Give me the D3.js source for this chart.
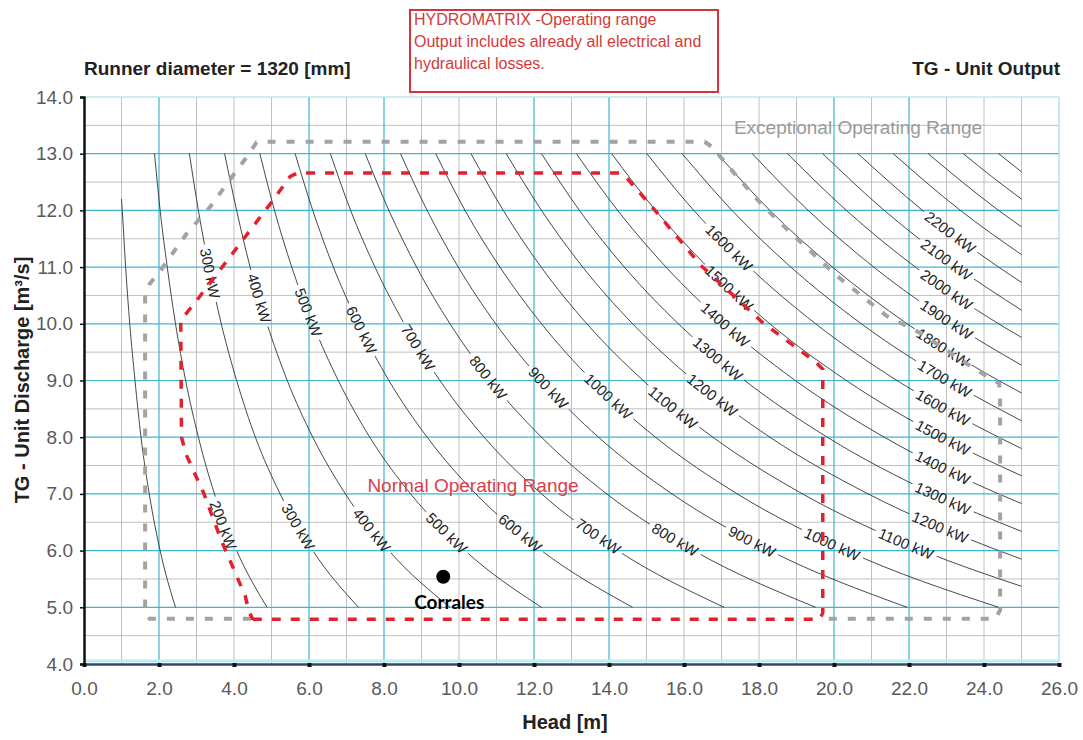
<!DOCTYPE html>
<html>
<head>
<meta charset="utf-8">
<script src="https://cdn.jsdelivr.net/npm/d3@7"></script>
<style>
  body { margin: 0; background: #fff; }
  svg { display: block; font-family: Arial, "Liberation Sans", sans-serif; }
</style>
</head>
<body>
<div id="chart"></div>
<script>
// axis ticks
var headTicks = [0, 2, 4, 6, 8, 10, 12, 14, 16, 18, 20, 22, 24, 26];
var dischargeTicks = [4, 5, 6, 7, 8, 9, 10, 11, 12, 13, 14];
var majorHeadGrid = [2, 6, 8, 12, 14, 20, 22];

// iso-output curves [head m, discharge m3/s]
var powerLevels = [100, 200, 300, 400, 500, 600, 700, 800, 900, 1000, 1100, 1200, 1300,
                   1400, 1500, 1600, 1700, 1800, 1900, 2000, 2100, 2200, 2300, 2400, 2500, 2600];
var curvePoints = [
  [[1.0,12.2],[1.02,12],[1.11,11],[1.22,10],[1.36,9],[1.52,8],[1.74,7],[2.03,6],[2.44,5]],
  [[1.88,13],[2.03,12],[2.22,11],[2.44,10],[2.71,9],[3.05,8],[3.48,7],[4.07,6],[4.88,5]],
  [[2.81,13],[3.05,12],[3.33,11],[3.66,10],[4.07,9],[4.57,8],[5.23,7],[6.10,6],[7.32,5]],
  [[3.75,13],[4.07,12],[4.43,11],[4.88,10],[5.42,9],[6.10,8],[6.97,7],[8.13,6],[9.76,5]],
  [[4.69,13],[5.08,12],[5.54,11],[6.10,10],[6.78,9],[7.62,8],[8.71,7],[10.16,6],[12.20,5]],
  [[5.63,13],[6.10,12],[6.65,11],[7.32,10],[8.13,9],[9.15,8],[10.45,7],[12.20,6],[14.63,5]],
  [[6.57,13],[7.11,12],[7.76,11],[8.54,10],[9.49,9],[10.67,8],[12.20,7],[14.23,6],[17.07,5]],
  [[7.50,13],[8.13,12],[8.87,11],[9.76,10],[10.84,9],[12.20,8],[13.94,7],[16.26,6],[19.51,5]],
  [[8.44,13],[9.15,12],[9.98,11],[10.98,10],[12.20,9],[13.72,8],[15.68,7],[18.29,6],[21.95,5]],
  [[9.38,13],[10.16,12],[11.09,11],[12.20,10],[13.55,9],[15.24,8],[17.42,7],[20.33,6],[24.39,5]],
  [[10.32,13],[11.18,12],[12.19,11],[13.41,10],[14.91,9],[16.77,8],[19.16,7],[22.36,6],[25,5.37]],
  [[11.26,13],[12.20,12],[13.30,11],[14.63,10],[16.26,9],[18.29,8],[20.91,7],[24.39,6],[25,5.85]],
  [[12.20,13],[13.21,12],[14.41,11],[15.85,10],[17.62,9],[19.82,8],[22.65,7],[25,6.34]],
  [[13.13,13],[14.23,12],[15.52,11],[17.07,10],[18.97,9],[21.34,8],[24.39,7],[25,6.83]],
  [[14.07,13],[15.24,12],[16.63,11],[18.29,10],[20.33,9],[22.87,8],[25,7.32]],
  [[15.01,13],[16.26,12],[17.74,11],[19.51,10],[21.68,9],[24.39,8],[25,7.80]],
  [[15.95,13],[17.28,12],[18.85,11],[20.73,10],[23.04,9],[25,8.29]],
  [[16.89,13],[18.29,12],[19.96,11],[21.95,10],[24.39,9],[25,8.78]],
  [[17.82,13],[19.31,12],[21.06,11],[23.17,10],[25,9.27]],
  [[18.76,13],[20.33,12],[22.17,11],[24.39,10],[25,9.76]],
  [[19.70,13],[21.34,12],[23.28,11],[25,10.24]],
  [[20.64,13],[22.36,12],[24.39,11],[25,10.73]],
  [[21.58,13],[23.37,12],[25,11.22]],
  [[22.51,13],[24.39,12],[25,11.71]],
  [[23.45,13],[24.2,12.6],[25,12.20]],
  [[24.39,13],[25,12.68]]
];

// curve labels [kW, head, discharge]
var labelsUpper = [[300,3.36,10.89],[400,4.67,10.45],[500,5.98,10.2],[600,7.4,9.89],[700,8.91,9.58],
  [800,10.78,9.05],[900,12.38,8.87],[1000,13.98,8.72],[1100,15.7,8.52],[1200,16.75,8.74],
  [1300,16.9,9.38],[1400,17.1,9.98],[1500,17.2,10.63],[1600,17.2,11.34]];
var labelsLower = [[200,3.71,6.45],[300,5.71,6.42],[400,7.67,6.36],[500,9.67,6.31],[600,11.63,6.31],
  [700,13.71,6.25],[800,15.76,6.19],[900,17.81,6.16],[1000,19.95,6.11],[1100,21.92,6.12]];
var labelsRight = [[1200,22.83,6.41],[1300,22.9,6.92],[1400,22.9,7.46],[1500,22.9,7.99],[1600,22.9,8.52],
  [1700,22.95,9.03],[1800,22.9,9.58],[1900,23.0,10.07],[2000,23.0,10.6],[2100,23.0,11.13],[2200,23.1,11.61]];

// operating range outlines
var normalRange = [[4.5,4.79],[19.62,4.79],[19.7,4.9],[19.7,9.2],[19.5,9.33],[18.1,10.02],[16.45,11.03],
  [15.1,12.1],[14.5,12.55],[14.3,12.66],[5.7,12.66],[5.5,12.6],[4.95,12.1],[3.05,10.45],[2.75,10.2],
  [2.58,10.07],[2.6,8.0],[2.72,7.7],[3.2,7.0],[3.65,6.2],[4.3,5.2],[4.4,4.92],[4.5,4.79]];
var exceptionalRange = [[4.45,4.8],[1.75,4.8],[1.63,4.9],[1.63,10.5],[1.75,10.7],[2.05,10.95],[2.75,11.6],
  [3.35,12.05],[3.9,12.55],[4.35,12.95],[4.6,13.2],[4.8,13.21],[16.55,13.21],[16.75,13.12],[17.36,12.64],
  [18.08,12.1],[18.9,11.57],[20.07,10.85],[21.4,10.14],[22.3,9.84],[23.67,9.24],[24.4,8.95],[24.43,8.8],
  [24.43,4.95],[24.3,4.8],[19.75,4.8]];

var sitePoint = [9.58, 5.54];
var siteName = "Corrales";
var noteLines = ["HYDROMATRIX -Operating range", "Output includes already all electrical and", "hydraulical losses."];

var W = 1083, H = 740;
var margin = {top: 97, right: 24, bottom: 76, left: 84};

var x = d3.scaleLinear().domain([0, 26]).range([margin.left, W - margin.right]);
var y = d3.scaleLinear().domain([4, 14]).range([H - margin.bottom, margin.top]);

var svg = d3.select("#chart").append("svg")
    .attr("width", W)
    .attr("height", H);

// grid
var grid = svg.append("g");
var minorV = d3.range(1, 26).filter(function(d) { return majorHeadGrid.indexOf(d) < 0; });
grid.selectAll(".gv").data(minorV).enter().append("line")
    .attr("x1", function(d) { return x(d); }).attr("x2", function(d) { return x(d); })
    .attr("y1", y(4)).attr("y2", y(14))
    .attr("stroke", "#b9b9b9").attr("stroke-width", 0.9);
grid.selectAll(".gh").data(d3.range(4.5, 14, 1)).enter().append("line")
    .attr("x1", x(0)).attr("x2", x(26))
    .attr("y1", function(d) { return y(d); }).attr("y2", function(d) { return y(d); })
    .attr("stroke", "#b9b9b9").attr("stroke-width", 0.9);
grid.selectAll(".cv").data(majorHeadGrid).enter().append("line")
    .attr("x1", function(d) { return x(d); }).attr("x2", function(d) { return x(d); })
    .attr("y1", y(4)).attr("y2", y(14))
    .attr("stroke", "#3fb6cf").attr("stroke-width", 1.2);
grid.selectAll(".ch").data(d3.range(5, 14, 1)).enter().append("line")
    .attr("x1", x(0)).attr("x2", x(26))
    .attr("y1", function(d) { return y(d); }).attr("y2", function(d) { return y(d); })
    .attr("stroke", "#3fb6cf").attr("stroke-width", 1.2);
grid.append("line").attr("x1", x(26)).attr("x2", x(26)).attr("y1", y(4)).attr("y2", y(14))
    .attr("stroke", "#9fdbe8").attr("stroke-width", 1.2);
grid.append("line").attr("x1", x(0)).attr("x2", x(26)).attr("y1", y(14)).attr("y2", y(14))
    .attr("stroke", "#9fdbe8").attr("stroke-width", 1.2);
grid.append("line").attr("x1", x(0)).attr("x2", x(26)).attr("y1", y(4) - 3).attr("y2", y(4) - 3)
    .attr("stroke", "#bfeaf3").attr("stroke-width", 3);

// mask that opens gaps in the curves for the labels
var mask = svg.append("defs").append("mask").attr("id", "gaps")
    .attr("maskUnits", "userSpaceOnUse")
    .attr("x", 0).attr("y", 0).attr("width", W).attr("height", H);
mask.append("rect").attr("width", W).attr("height", H).attr("fill", "#fff");

var line = d3.line()
    .x(function(d) { return x(d[0]); })
    .y(function(d) { return y(d[1]); })
    .curve(d3.curveMonotoneX);

svg.append("g").attr("mask", "url(#gaps)")
  .selectAll("path").data(curvePoints).enter().append("path")
    .attr("d", line)
    .attr("fill", "none")
    .attr("stroke", "#333")
    .attr("stroke-width", 0.9);

// curve labels, rotated along the curve
function labelAngle(h, q) {
  var dx = x(h + 0.2) - x(h - 0.2);
  var dy = y(q * h / (h + 0.2)) - y(q * h / (h - 0.2));
  return Math.atan2(dy, dx) * 180 / Math.PI;
}

var labelGroup = svg.append("g");
labelsUpper.concat(labelsLower, labelsRight).forEach(function(d) {
  var px = x(d[1]), py = y(d[2]), a = labelAngle(d[1], d[2]);
  var t = labelGroup.append("text")
      .attr("transform", "translate(" + px + "," + py + ") rotate(" + a + ")")
      .attr("text-anchor", "middle")
      .attr("dy", "0.35em")
      .attr("font-size", 15)
      .attr("fill", "#222")
      .text(d[0] + " kW");
  var len = t.node().getComputedTextLength() + 8;
  mask.append("rect")
      .attr("x", -len / 2).attr("y", -8)
      .attr("width", len).attr("height", 16)
      .attr("transform", "translate(" + px + "," + py + ") rotate(" + a + ")")
      .attr("fill", "#000");
});

// operating ranges
var outline = d3.line()
    .x(function(d) { return x(d[0]); })
    .y(function(d) { return y(d[1]); });

svg.append("path")
    .attr("d", outline(exceptionalRange))
    .attr("fill", "none")
    .attr("stroke", "#a3a3a3")
    .attr("stroke-width", 4)
    .attr("stroke-dasharray", "8,11");

svg.append("path")
    .attr("d", outline(normalRange))
    .attr("fill", "none")
    .attr("stroke", "#e3202c")
    .attr("stroke-width", 3.5)
    .attr("stroke-dasharray", "9,10");

svg.append("text")
    .attr("x", 858).attr("y", 134)
    .attr("text-anchor", "middle")
    .attr("font-size", 19)
    .attr("fill", "#9a9a9a")
    .text("Exceptional Operating Range");

svg.append("text")
    .attr("x", 473).attr("y", 492)
    .attr("text-anchor", "middle")
    .attr("font-size", 19)
    .attr("fill", "#d9404c")
    .text("Normal Operating Range");

// axes
var xAxis = svg.append("g")
    .attr("transform", "translate(0," + y(4) + ")")
    .call(d3.axisBottom(x).tickValues(headTicks).tickFormat(d3.format(".1f")).tickSize(0).tickPadding(18));
xAxis.select(".domain").attr("stroke", "#2d4c68").attr("stroke-width", 2.5);
xAxis.selectAll(".tick text").attr("font-size", 19).attr("fill", "#5a5a5a").attr("font-family", "Arial, 'Liberation Sans', sans-serif");
xAxis.selectAll(".tick").append("rect")
    .attr("x", -2).attr("y", -1).attr("width", 4).attr("height", 4).attr("fill", "#111");

var yAxis = svg.append("g")
    .attr("transform", "translate(" + x(0) + ",0)")
    .call(d3.axisLeft(y).tickValues(dischargeTicks).tickFormat(d3.format(".1f")).tickSize(4).tickPadding(7));
yAxis.select(".domain").attr("stroke", "#111").attr("stroke-width", 2.5);
yAxis.selectAll(".tick line").attr("stroke", "#111").attr("stroke-width", 1.5);
yAxis.selectAll(".tick text").attr("font-size", 19).attr("fill", "#5a5a5a").attr("font-family", "Arial, 'Liberation Sans', sans-serif");

svg.append("text")
    .attr("x", 565).attr("y", 729)
    .attr("text-anchor", "middle")
    .attr("font-size", 20).attr("font-weight", "bold").attr("fill", "#222")
    .text("Head [m]");

svg.append("text")
    .attr("transform", "translate(29,380) rotate(-90)")
    .attr("text-anchor", "middle")
    .attr("font-size", 20).attr("font-weight", "bold").attr("fill", "#222")
    .text("TG - Unit Discharge [m³/s]");

// titles
svg.append("text")
    .attr("x", 84).attr("y", 75)
    .attr("font-size", 19).attr("font-weight", "bold").attr("fill", "#222")
    .text("Runner diameter = 1320 [mm]");

svg.append("text")
    .attr("x", 1060).attr("y", 75)
    .attr("text-anchor", "end")
    .attr("font-size", 19).attr("font-weight", "bold").attr("fill", "#222")
    .text("TG - Unit Output");

// note box
svg.append("rect")
    .attr("x", 410).attr("y", 10).attr("width", 308).attr("height", 82)
    .attr("fill", "#fff").attr("stroke", "#d8333d").attr("stroke-width", 2);
svg.append("g").selectAll("text").data(noteLines).enter().append("text")
    .attr("x", 414)
    .attr("y", function(d, i) { return 25 + i * 22; })
    .attr("font-size", 16)
    .attr("fill", "#d23a3a")
    .text(function(d) { return d; });

// site marker
svg.append("circle")
    .attr("cx", x(sitePoint[0])).attr("cy", y(sitePoint[1]))
    .attr("r", 7).attr("fill", "#000");
svg.append("text")
    .attr("x", x(sitePoint[0]) + 6).attr("y", y(sitePoint[1]) + 32)
    .attr("text-anchor", "middle")
    .attr("font-family", "Lato, 'Open Sans', sans-serif")
    .attr("font-size", 19).attr("font-weight", "bold").attr("fill", "#000")
    .text(siteName);
</script>
</body>
</html>
